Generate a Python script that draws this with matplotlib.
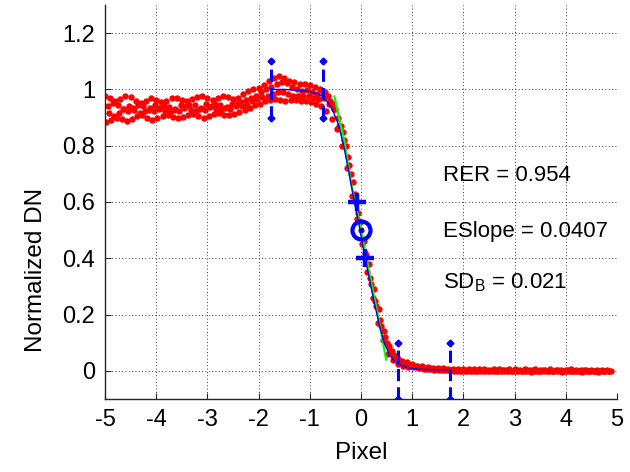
import numpy as np
import matplotlib
matplotlib.use("Agg")
import matplotlib.pyplot as plt

plt.rcParams['font.family'] = ['Liberation Sans', 'DejaVu Sans']
plt.rcParams['mathtext.fontset'] = 'custom'
plt.rcParams['mathtext.rm'] = 'Liberation Sans'
plt.rcParams['mathtext.it'] = 'Liberation Sans:italic'
plt.rcParams['axes.unicode_minus'] = False

# ---- edge spread samples: four interleaved rows, sampled every 0.1 px ----
pixel_grid = np.round(np.arange(-5.0, 4.85, 0.1), 2)
row_offsets = [0.0, 0.025, 0.05, 0.075]

row_a = [0.975, 0.970, 0.960, 0.965, 0.978, 0.972, 0.958, 0.952, 0.960, 0.968,
         0.962, 0.955, 0.960, 0.968, 0.970, 0.962, 0.958, 0.965, 0.972, 0.975,
         0.968, 0.962, 0.968, 0.975, 0.972, 0.965, 0.970, 0.985, 0.995, 1.000,
         1.005, 1.015, 1.030, 1.040, 1.048, 1.040, 1.030, 1.025, 1.020, 1.018,
         1.015, 1.010,
         1.000, 0.990, 0.960, 0.930, 0.870, 0.800, 0.700, 0.600, 0.500, 0.410,
         0.310, 0.230, 0.160, 0.100, 0.070, 0.050, 0.035,
         0.030, 0.024, 0.019, 0.016, 0.013, 0.011, 0.010, 0.009, 0.008, 0.008,
         0.007, 0.006, 0.007, 0.005, 0.006, 0.005, 0.004, 0.006, 0.005, 0.004,
         0.005, 0.006, 0.004, 0.005, 0.004, 0.005, 0.004, 0.003, 0.005, 0.004,
         0.003, 0.004, 0.005, 0.003, 0.004, 0.003, 0.004, 0.003, 0.002, 0.003]

row_b = [0.885, 0.890, 0.900, 0.895, 0.888, 0.895, 0.905, 0.910, 0.900, 0.893,
         0.898, 0.906, 0.910, 0.902, 0.897, 0.903, 0.910, 0.912, 0.905, 0.900,
         0.905, 0.912, 0.915, 0.910, 0.908, 0.912, 0.920, 0.928, 0.935, 0.945,
         0.950, 0.958, 0.962, 0.965, 0.962, 0.960, 0.962, 0.963, 0.960, 0.958,
         0.955, 0.948,
         0.940, 0.925, 0.895, 0.860, 0.800, 0.720, 0.620, 0.540, 0.450, 0.350,
         0.260, 0.170, 0.110, 0.060, 0.040, 0.025, 0.018,
         0.015, 0.012, 0.009, 0.007, 0.005, 0.004, 0.003, 0.002, 0.002, 0.001,
         0.000, -0.001, 0.001, -0.002, 0.000, -0.001, -0.002, 0.000, -0.001, -0.002,
         -0.001, 0.000, -0.002, -0.001, -0.003, -0.001, -0.002, 0.000, -0.002, -0.001,
         -0.003, -0.002, -0.001, -0.002, -0.003, -0.002, -0.001, -0.003, -0.002, -0.002]

row_c = [0.940, 0.952, 0.945, 0.930, 0.925, 0.935, 0.945, 0.940, 0.928, 0.922,
         0.932, 0.942, 0.938, 0.926, 0.924, 0.935, 0.946, 0.944, 0.932, 0.928,
         0.938, 0.948, 0.945, 0.935, 0.932, 0.942, 0.955, 0.962, 0.970, 0.978,
         0.990, 1.002, 1.010, 1.020, 1.028, 1.022, 1.010, 1.000, 0.995, 0.998,
         0.992, 0.985,
         0.990, 0.975, 0.950, 0.900, 0.850, 0.760, 0.670, 0.560, 0.460, 0.380,
         0.290, 0.220, 0.140, 0.090, 0.055, 0.040, 0.028,
         0.022, 0.018, 0.014, 0.011, 0.009, 0.007, 0.006, 0.005, 0.004, 0.004,
         0.003, 0.002, 0.003, 0.001, 0.002, 0.003, 0.002, 0.001, 0.002, 0.003,
         0.001, 0.002, 0.001, 0.002, 0.003, 0.001, 0.002, 0.001, 0.000, 0.002,
         0.001, 0.002, 0.000, 0.001, 0.002, 0.001, 0.000, 0.001, 0.000, 0.001]

row_d = [0.915, 0.905, 0.918, 0.930, 0.940, 0.928, 0.918, 0.922, 0.935, 0.945,
         0.935, 0.922, 0.920, 0.932, 0.944, 0.940, 0.927, 0.922, 0.935, 0.948,
         0.942, 0.930, 0.926, 0.938, 0.950, 0.948, 0.940, 0.945, 0.958, 0.965,
         0.972, 0.978, 0.985, 0.990, 0.992, 0.985, 0.978, 0.975, 0.978, 0.975,
         0.970, 0.965,
         0.970, 0.950, 0.930, 0.870, 0.820, 0.730, 0.630, 0.530, 0.420, 0.330,
         0.250, 0.180, 0.120, 0.070, 0.045, 0.030, 0.024,
         0.018, 0.014, 0.011, 0.008, 0.006, 0.005, 0.004, 0.003, 0.002, 0.001,
         0.001, 0.000, -0.001, 0.001, 0.000, -0.001, 0.000, 0.001, -0.001, 0.000,
         0.000, -0.001, 0.001, 0.000, -0.001, 0.000, -0.001, 0.000, 0.001, -0.001,
         0.000, -0.001, 0.000, -0.002, 0.000, -0.001, 0.000, -0.001, 0.000, -0.001]

# ---- fitted edge spread function ----
fit_x = [-1.75, -1.5, -1.25, -1.0, -0.85, -0.75, -0.65, -0.55, -0.45, -0.35,
         -0.25, -0.15, -0.05, 0.05, 0.15, 0.25, 0.35, 0.45, 0.55, 0.65,
         0.75, 0.9, 1.1, 1.4, 1.73]
fit_y = [1.0, 1.0, 0.997, 0.993, 0.985, 0.975, 0.955, 0.925, 0.88, 0.81,
         0.72, 0.62, 0.53, 0.43, 0.34, 0.25, 0.17, 0.10, 0.06, 0.035,
         0.022, 0.012, 0.006, 0.004, 0.004]

# ---- edge slope segment ----
slope_x = [-0.52, -0.33, -0.195, 0.0, 0.16, 0.36, 0.49]
slope_y = [0.975, 0.82, 0.668, 0.5, 0.35, 0.17, 0.04]

# ---- 40% / 50% / 60% points ----
level_x = [-0.085, 0.085]
level_y = [0.6, 0.4]
mid_x, mid_y = 0.0, 0.5

# ---- plateau windows ----
window_top_x = [-1.75, -0.75]
window_top_y = [0.9, 1.1]
window_bot_x = [0.73, 1.73]
window_bot_y = [-0.1, 0.1]

metrics = ["RER = 0.954", "ESlope = 0.0407", r"SD$_\mathrm{B}$ = 0.021"]
metric_y = [0.673, 0.477, 0.294]

x_ticks = [-5, -4, -3, -2, -1, 0, 1, 2, 3, 4, 5]
y_ticks = [0, 0.2, 0.4, 0.6, 0.8, 1.0, 1.2]
y_tick_labels = ["0", "0.2", "0.4", "0.6", "0.8", "1", "1.2"]

fig = plt.figure(figsize=(6.3, 4.72), dpi=100)
ax = fig.add_axes([105 / 630, 73 / 472, 512 / 630, 394 / 472])

for off, row in zip(row_offsets, [row_a, row_b, row_c, row_d]):
    ax.plot(pixel_grid + off, row, ls='none', marker='o', ms=4.6,
            color='red', mew=0, zorder=2)

ax.plot(slope_x, slope_y, color='#00ff00', lw=1.6, zorder=3)
ax.plot(fit_x, fit_y, color='blue', lw=1.0, zorder=4)

for wx in window_top_x:
    ax.plot([wx, wx], window_top_y, color='blue', lw=2.2, ls=(0, (4, 2)),
            marker='D', ms=3.5, zorder=5)
for wx in window_bot_x:
    ax.plot([wx, wx], window_bot_y, color='blue', lw=2.2, ls=(0, (4, 2)),
            marker='D', ms=3.5, zorder=5)

ax.plot(level_x, level_y, ls='none', marker='+', ms=13, mew=3.2,
        color='blue', zorder=6)
ax.plot([mid_x], [mid_y], ls='none', marker='o', ms=13, mew=3.0,
        mfc='none', mec='blue', zorder=6)
ax.plot([mid_x], [mid_y], ls='none', marker='o', ms=2.5, color='blue', zorder=6)

for txt, ty in zip(metrics, metric_y):
    ax.text(1.6, ty, txt, fontsize=16, va='baseline', ha='left', color='black')

ax.set_xlim(-5, 5)
ax.set_ylim(-0.1, 1.3)
ax.set_xticks(x_ticks)
ax.set_xticklabels([str(t) for t in x_ticks])
ax.set_yticks(y_ticks)
ax.set_yticklabels(y_tick_labels)

ax.grid(True, ls=(0, (1, 3)), color='black', lw=0.6)
ax.set_axisbelow(True)
for side in ['top', 'right']:
    ax.spines[side].set_visible(False)
for side in ['left', 'bottom']:
    ax.spines[side].set_color('#262626')
    ax.spines[side].set_linewidth(1.0)
ax.tick_params(direction='in', length=4, width=0.8, labelsize=17, pad=7,
               top=False, right=False, colors='#262626', labelcolor='black')

ax.set_xlabel("Pixel", fontsize=17.5)
ax.set_ylabel("Normalized DN", fontsize=17.5)
ax.xaxis.set_label_coords(0.5, -0.11)
ax.yaxis.set_label_coords(-0.114, 0.327)

fig.savefig("out.png", dpi=100)
